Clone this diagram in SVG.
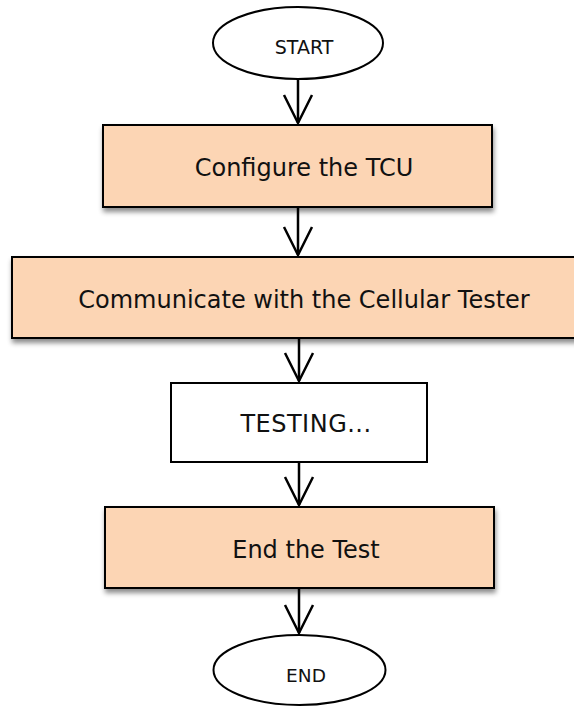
<svg xmlns="http://www.w3.org/2000/svg" width="574" height="706" viewBox="0 0 574 706">
  <style>
    .box { fill: #FCD5B4; stroke: #000; stroke-width: 2; filter: url(#shadow); }
    .plain { fill: #fff; stroke: #000; stroke-width: 2; }
    .oval { fill: #fff; stroke: #000; stroke-width: 2; }
    .lbl { font-family: "DejaVu Sans", "Liberation Sans", sans-serif; font-size: 24px; fill: #111; text-anchor: middle; }
    .small { font-size: 19px; }
    .conn { stroke: #000; stroke-width: 2.5; fill: none; marker-end: url(#vhead); }
  </style>
  <defs>
    <filter id="shadow" x="-10%" y="-20%" width="120%" height="160%">
      <feDropShadow dx="1" dy="4" stdDeviation="2.5" flood-color="#000" flood-opacity="0.45"/>
    </filter>
    <marker id="vhead" markerUnits="userSpaceOnUse" markerWidth="34" markerHeight="34" viewBox="-31 -17 34 34" refX="0" refY="0" orient="auto">
      <path d="M -28 -14 L 0 0 L -28 14" fill="none" stroke="#000" stroke-width="2.5" stroke-linejoin="miter"/>
    </marker>
  </defs>
  <rect width="574" height="706" fill="#fff"/>

  <g id="connectors">
    <line class="conn" x1="298" y1="79" x2="298" y2="123"/>
    <line class="conn" x1="298" y1="207" x2="298" y2="255"/>
    <line class="conn" x1="299" y1="338" x2="299" y2="381"/>
    <line class="conn" x1="299" y1="462" x2="299" y2="505"/>
    <line class="conn" x1="299" y1="588" x2="299" y2="633"/>
  </g>

  <g id="start">
    <ellipse class="oval" cx="298" cy="43" rx="85" ry="36"/>
    <text class="lbl small" x="304" y="54">START</text>
  </g>

  <g id="configure">
    <rect class="box" x="103" y="125" width="389" height="82"/>
    <text class="lbl" x="304" y="176">Configure the TCU</text>
  </g>

  <g id="communicate">
    <rect class="box" x="12" y="257" width="572" height="81"/>
    <text class="lbl" x="304" y="308">Communicate with the Cellular Tester</text>
  </g>

  <g id="testing">
    <rect class="plain" x="171" y="383" width="256" height="79"/>
    <text class="lbl" x="306" y="432" letter-spacing="0.5">TESTING...</text>
  </g>

  <g id="endtest">
    <rect class="box" x="105" y="507" width="389" height="81"/>
    <text class="lbl" x="306" y="558">End the Test</text>
  </g>

  <g id="end">
    <ellipse class="oval" cx="299.5" cy="670" rx="86" ry="35"/>
    <text class="lbl" x="306" y="682" style="font-size:18.5px">END</text>
  </g>
</svg>
